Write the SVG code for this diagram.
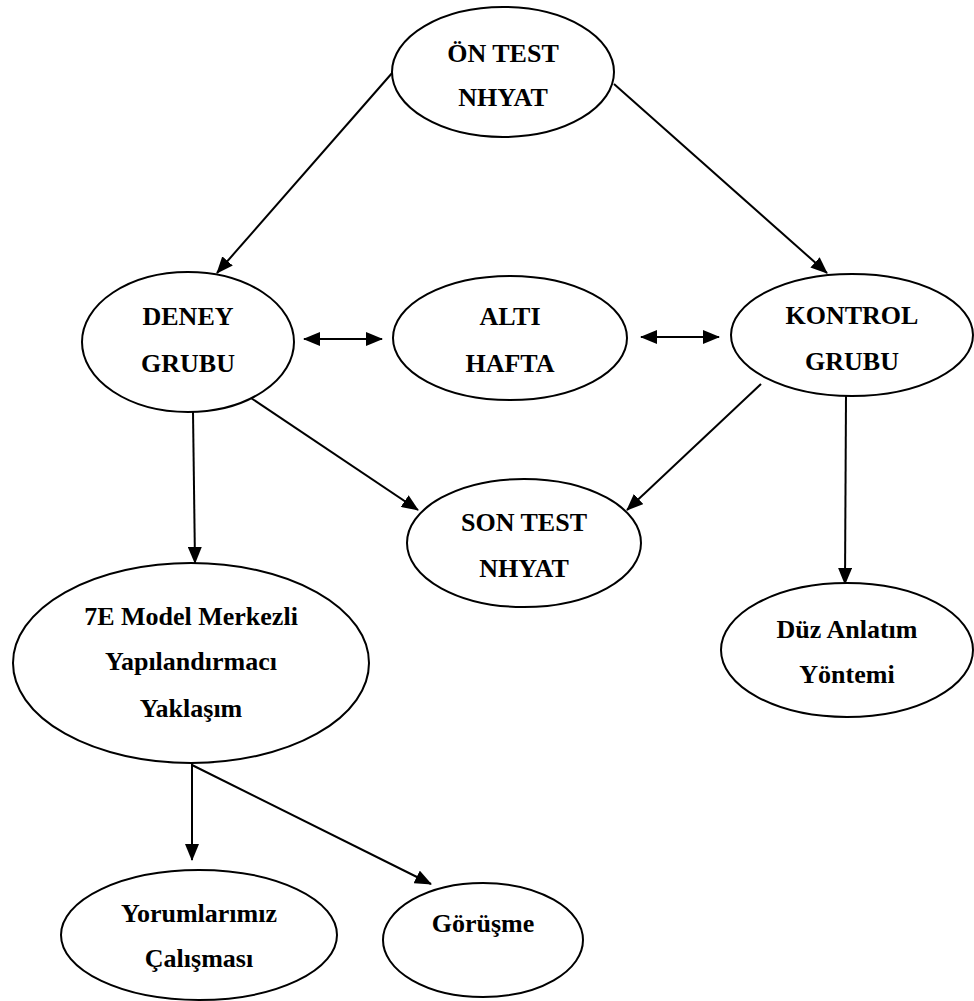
<svg xmlns="http://www.w3.org/2000/svg" width="974" height="1001" viewBox="0 0 974 1001">
<style>
.n ellipse{fill:#fff;stroke:#000;stroke-width:2}
.n text{font-family:"Liberation Serif","Times New Roman",serif;font-weight:bold;font-size:26px;text-anchor:middle;fill:#000}
.c line{stroke:#000;stroke-width:2;fill:none;marker-end:url(#ah)}
.c line.d{marker-start:url(#ah)}
</style>
<defs>
<marker id="ah" markerUnits="userSpaceOnUse" markerWidth="18" markerHeight="14" refX="16" refY="7" orient="auto-start-reverse">
<path d="M0,0 L17,7 L0,14 z" fill="#000"/>
</marker>
</defs>
<rect width="974" height="1001" fill="#fff"/>
<g class="c" id="connectors">
<line x1="393" y1="72" x2="217" y2="273"/>
<line x1="614" y1="84" x2="827" y2="273"/>
<line class="d" x1="304" y1="339" x2="382" y2="339"/>
<line class="d" x1="641" y1="337" x2="719" y2="337"/>
<line x1="193" y1="412" x2="195" y2="563"/>
<line x1="248" y1="396" x2="418" y2="510"/>
<line x1="761" y1="384" x2="627" y2="510"/>
<line x1="846" y1="395" x2="845" y2="584"/>
<line x1="192" y1="763" x2="192" y2="860"/>
<line x1="192" y1="765" x2="431" y2="884"/>
</g>
<g class="n" id="on-test"><ellipse cx="503" cy="72" rx="111" ry="65"/><text x="503" y="62">ÖN TEST</text><text x="503" y="106">NHYAT</text></g>
<g class="n" id="deney"><ellipse cx="188" cy="342" rx="106" ry="70"/><text x="188" y="325">DENEY</text><text x="188" y="372">GRUBU</text></g>
<g class="n" id="alti"><ellipse cx="510" cy="338" rx="117" ry="62"/><text x="510" y="325">ALTI</text><text x="510" y="372">HAFTA</text></g>
<g class="n" id="kontrol"><ellipse cx="852" cy="335" rx="121" ry="61"/><text x="852" y="324">KONTROL</text><text x="852" y="370">GRUBU</text></g>
<g class="n" id="son-test"><ellipse cx="524" cy="543" rx="117" ry="64"/><text x="524" y="531">SON TEST</text><text x="524" y="577">NHYAT</text></g>
<g class="n" id="model"><ellipse cx="191" cy="663" rx="178" ry="100"/><text x="191" y="625">7E Model Merkezli</text><text x="191" y="670">Yapılandırmacı</text><text x="191" y="717">Yaklaşım</text></g>
<g class="n" id="duz"><ellipse cx="847" cy="650" rx="126" ry="67"/><text x="847" y="638">Düz Anlatım</text><text x="847" y="683">Yöntemi</text></g>
<g class="n" id="yorum"><ellipse cx="199" cy="935" rx="138" ry="65"/><text x="199" y="922">Yorumlarımız</text><text x="199" y="967">Çalışması</text></g>
<g class="n" id="gorusme"><ellipse cx="483" cy="940" rx="100" ry="57"/><text x="483" y="932">Görüşme</text></g>
</svg>
